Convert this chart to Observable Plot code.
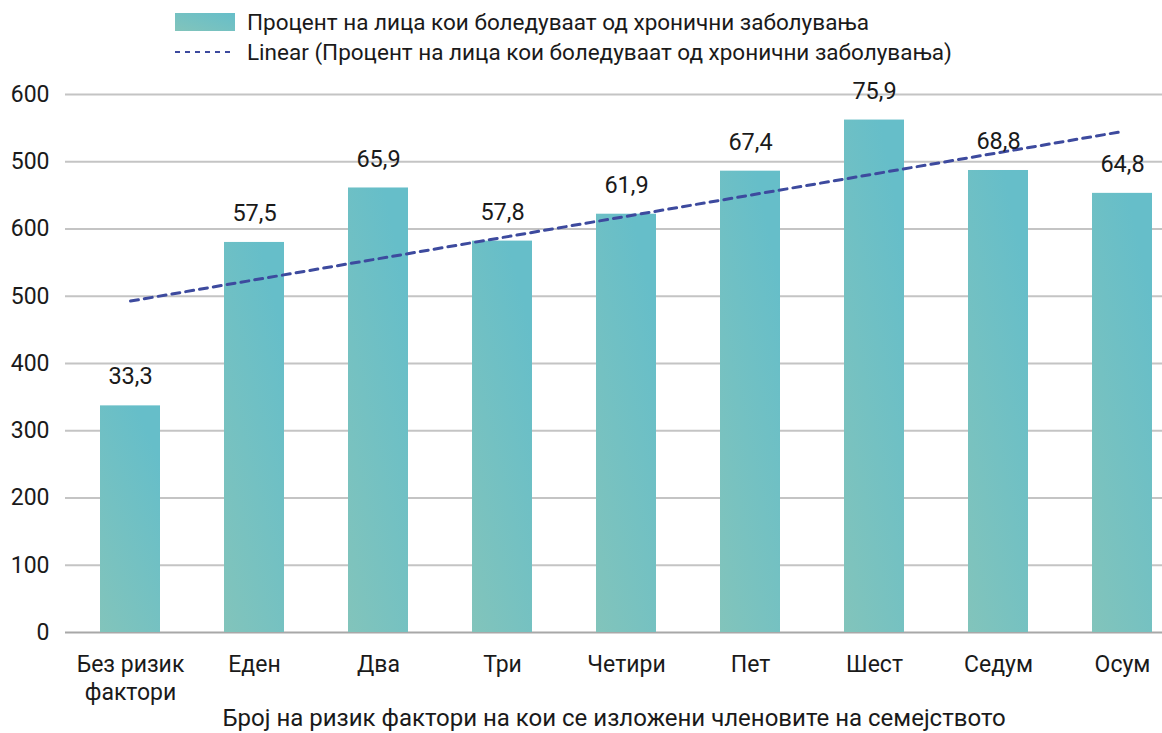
<!DOCTYPE html>
<html><head><meta charset="utf-8">
<script src="https://cdn.jsdelivr.net/npm/d3@7"></script>
<script src="https://cdn.jsdelivr.net/npm/@observablehq/plot@0.6"></script>
<style>
body{margin:0;background:#fff;font-family:Roboto, "Noto Sans", sans-serif;color:#1a1a1a;}
#legend{height:70px;position:relative;}
.row{position:absolute;left:175px;height:30px;display:flex;align-items:center;font-size:22.5px;white-space:nowrap;}
.row svg{margin-right:12px;}
</style></head><body>
<div id="legend"></div><div id="chart"></div>
<script>
const categories = ["Без ризик\nфактори","Еден","Два","Три","Четири","Пет","Шест","Седум","Осум"];
const barValues = [337, 580, 661, 582, 622, 686, 762, 687, 653];
const valueLabels = ["33,3","57,5","65,9","57,8","61,9","67,4","75,9","68,8","64,8"];
const yTicks = [0, 100, 200, 300, 400, 500, 600, 700, 800];
const yTickLabels = ["0","100","200","300","400","500","600","500","600"];
const seriesName = "Процент на лица кои боледуваат од хронични заболувања";
const trendName = "Linear (Процент на лица кои боледуваат од хронични заболувања)";
const xTitle = "Број на ризик фактори на кои се изложени членовите на семејството";

const barTop = "#66bec9", barBottom = "#82c4bb", trendColor = "#3d4a9e";

// legend
const legend = document.getElementById("legend");
legend.innerHTML = `
<div class="row" style="top:7px"><svg width="60" height="18"><defs><linearGradient id="lg" x1="0" y1="1" x2="1" y2="0"><stop offset="0" stop-color="${barBottom}"/><stop offset="1" stop-color="${barTop}"/></linearGradient></defs><rect width="60" height="18" fill="url(#lg)"/></svg><span></span></div>
<div class="row" style="top:37px"><svg width="60" height="18"><line x1="0" x2="60" y1="9" y2="9" stroke="${trendColor}" stroke-width="2" stroke-dasharray="5 5"/></svg><span></span></div>`;
const spans = legend.querySelectorAll("span");
spans[0].textContent = seriesName;
spans[1].textContent = trendName;

const data = categories.map((c, i) => ({c, i, v: barValues[i], label: valueLabels[i]}));
// least-squares linear trend (as in the spreadsheet's "Linear" trendline)
const mx = d3.mean(data, d => d.i), my = d3.mean(data, d => d.v);
const slope = d3.sum(data, d => (d.i - mx) * (d.v - my)) / d3.sum(data, d => (d.i - mx) ** 2);
const intercept = my - slope * mx;
const trend = data.map(d => ({c: d.c, t: intercept + slope * d.i}));
const tickLabel = new Map(yTicks.map((t, i) => [t, yTickLabels[i]]));

const defsMark = () => {
  const defs = d3.create("svg:defs");
  const g = defs.append("linearGradient").attr("id", "barGrad")
    .attr("x1", "0").attr("y1", "1").attr("x2", "0.6").attr("y2", "0");
  g.append("stop").attr("offset", "0").attr("stop-color", barBottom);
  g.append("stop").attr("offset", "1").attr("stop-color", barTop);
  return defs.node();
};

const chart = Plot.plot({
  width: 1162, height: 663,
  marginLeft: 65, marginRight: 0, marginTop: 24, marginBottom: 101,
  style: {fontFamily: "Roboto, 'Noto Sans', sans-serif", fontSize: "23px", color: "#1a1a1a", background: "#fff", overflow: "visible"},
  x: {domain: categories, paddingInner: 0.52, paddingOuter: 0.15, align: 0.76, label: null},
  y: {domain: [0, 800], label: null},
  marks: [
    defsMark,
    Plot.gridY(yTicks.slice(1), {stroke: "#c4c4c4", strokeWidth: 2, strokeOpacity: 1}),
    Plot.ruleY([0], {stroke: "#a8a8a8", strokeWidth: 2}),
    Plot.axisY(yTicks, {tickSize: 0, tickPadding: 16, tickFormat: d => tickLabel.get(d), fontSize: 23, label: null}),
    Plot.axisX({tickSize: 0, tickPadding: 20, lineHeight: 1.22, fontSize: 23, label: null}),
    Plot.barY(data, {x: "c", y: "v", fill: "url(#barGrad)"}),
    Plot.line(trend, {x: "c", y: "t", stroke: trendColor, strokeWidth: 3, strokeDasharray: "8 6"}),
    Plot.text(data, {x: "c", y: "v", text: "label", dy: -29, fontSize: 23.5, fill: "#1a1a1a"}),
    Plot.text([xTitle], {frameAnchor: "bottom", dy: 93, fontSize: 24, fill: "#1a1a1a"})
  ]
});
document.getElementById("chart").appendChild(chart);
</script>
</body></html>
